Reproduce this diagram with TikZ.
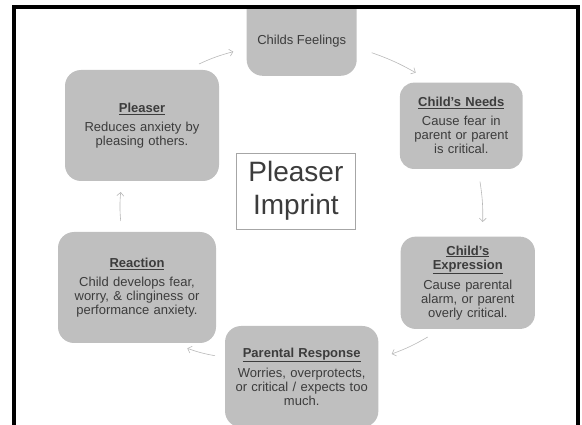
\documentclass[tikz,border=0pt]{standalone}
\usepackage{fontspec}
\setmainfont{Liberation Sans}
\usetikzlibrary{arrows.meta}
\definecolor{boxgray}{RGB}{191,191,191}
\definecolor{txtgray}{RGB}{60,60,60}
\definecolor{arrgray}{RGB}{185,185,185}
\definecolor{rimgray}{RGB}{166,166,166}
\newcommand{\boxtitle}[1]{\underline{\textbf{#1}}}

\begin{document}
\begin{tikzpicture}
  [x=1pt,y=1pt,
   box/.style={rectangle, rounded corners=16pt, fill=boxgray, text=txtgray, align=center,
               inner sep=0pt, font=\fontsize{13}{14}\selectfont},
   arr/.style={draw=arrgray, line width=0.6pt, -{Straight Barb[length=3.5pt,width=7pt]}}]
  \useasboundingbox (0,0) rectangle (582,-425);

  \begin{scope}
    \clip (15,-9) rectangle (576,-425);
    \node[box, minimum width=110pt, minimum height=100pt, anchor=south] (feelbox) at (301.7,-76) {};
    \node[box, fill=none] (feel) at (301.7,-40.7) {Childs Feelings};
    \node[box, text width=154pt, minimum height=111pt] (pleaser) at (142,-125.5)
      {\boxtitle{Pleaser}\\[5pt]Reduces anxiety by\\pleasing others.};
    \node[box, text width=122.7pt, minimum height=86.3pt, rounded corners=14pt] (needs) at (461.3,-125.8)
      {\boxtitle{Child’s Needs}\\[5pt]Cause fear in\\parent or parent\\is critical.};
    \node[box, text width=134.3pt, minimum height=92.3pt, rounded corners=15pt] (expr) at (467.8,-282.8)
      {\boxtitle{Child’s}\\\boxtitle{Expression}\\[5pt]Cause parental\\alarm, or parent\\overly critical.};
    \node[box, text width=153.3pt, minimum height=101.2pt] (parental) at (301.7,-376.6)
      {\boxtitle{Parental Response}\\[5pt]Worries, overprotects,\\or critical / expects too\\much.};
    \node[box, text width=158pt, minimum height=111pt] (reaction) at (137,-287.5)
      {\boxtitle{Reaction}\\[5pt]Child develops fear,\\worry, \& clinginess or\\performance anxiety.};
  \end{scope}

  \node[draw=rimgray, line width=0.8pt, fill=white, text=txtgray, align=center, inner sep=0pt,
        minimum width=118.3pt, minimum height=75.7pt, font=\fontsize{28}{33}\selectfont]
    (imprint) at (295.9,-191.2) {Pleaser\\Imprint};

  % arrow ends
  \coordinate (a1) at (199,-64);    \coordinate (b1) at (233.3,-51.7);
  \coordinate (a2) at (371.7,-52.7); \coordinate (b2) at (415.7,-72.7);
  \coordinate (a3) at (480,-181.7);  \coordinate (b3) at (482.7,-222);
  \coordinate (a4) at (427.7,-337);  \coordinate (b4) at (391.7,-354);
  \coordinate (a5) at (215,-355.7);  \coordinate (b5) at (187.3,-348.3);
  \coordinate (a6) at (120.7,-221);  \coordinate (b6) at (120.7,-192);

  \foreach \from/\to in {a1/b1,a2/b2,a3/b3,a4/b4,a5/b5,a6/b6}
    \draw[arr] (\from) to[bend left=5] (\to);

  \draw[line width=4pt] (13.7,-6.7) rectangle (578,-440);
\end{tikzpicture}
\end{document}
